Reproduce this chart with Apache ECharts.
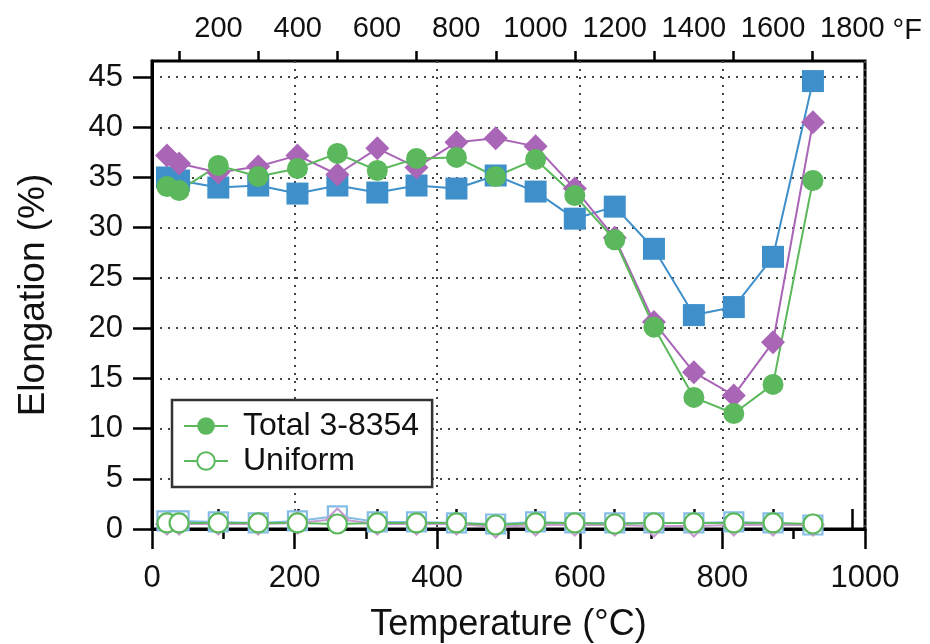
<!DOCTYPE html>
<html><head><meta charset="utf-8">
<script src="https://cdn.jsdelivr.net/npm/echarts@6/dist/echarts.min.js"></script>
<style>html,body{margin:0;padding:0;background:#fff}#c{width:930px;height:644px}</style>
</head><body><div id="c"></div>
<script>
// Test temperatures (°C), equivalent to 70, 100, 200 ... 1700 °F
const temperaturesC = [21, 38, 93, 149, 204, 260, 316, 371, 427, 482, 538, 593, 649, 704, 760, 816, 871, 927];
// Total elongation (%)
const totalGreen  = [34.1, 33.7, 36.2, 35.1, 35.9, 37.4, 35.7, 36.9, 37.0, 35.1, 36.8, 33.2, 28.8, 20.1, 13.1, 11.5, 14.4, 34.7];
const totalPurple = [37.2, 36.4, 35.5, 36.1, 37.2, 35.3, 37.9, 36.0, 38.5, 38.9, 38.1, 33.9, 29.0, 20.6, 15.6, 13.3, 18.6, 40.5];
const totalBlue   = [35.0, 34.7, 34.0, 34.2, 33.4, 34.2, 33.5, 34.2, 33.9, 35.2, 33.6, 30.9, 32.1, 27.9, 21.3, 22.1, 27.1, 44.6];
// Uniform elongation (%)
const uniformGreen  = [0.6, 0.6, 0.6, 0.6, 0.6, 0.5, 0.6, 0.6, 0.6, 0.4, 0.6, 0.6, 0.5, 0.6, 0.6, 0.6, 0.6, 0.5];
const uniformPurple = [0.5, 0.5, 0.5, 0.5, 0.6, 1.0, 0.5, 0.5, 0.5, 0.2, 0.4, 0.4, 0.4, 0.3, 0.3, 0.4, 0.4, 0.4];
const uniformBlue   = [0.8, 0.8, 0.7, 0.6, 0.8, 1.3, 0.7, 0.7, 0.6, 0.5, 0.7, 0.6, 0.6, 0.6, 0.6, 0.7, 0.6, 0.4];
// Tick labels
const yTicks = [0, 5, 10, 15, 20, 25, 30, 35, 40, 45];
const fMajorTicks = [200, 400, 600, 800, 1000, 1200, 1400, 1600, 1800];
const fMinorTicks = [100, 300, 500, 700, 900, 1100, 1300, 1500, 1700];
const fUnit = '°F';

const FONT = 'Liberation Sans';
const GREEN = '#5cb85c', PURPLE = '#a965b6', BLUE = '#3f90ca';
const pairs = ys => temperaturesC.map((x, i) => [x, ys[i]]);
const plain = v => String(v);

function totalSeries(name, ys, color, symbol, size) {
  return {
    name, type: 'line', data: pairs(ys), xAxisIndex: 0, yAxisIndex: 0,
    symbol, symbolSize: size, showAllSymbol: true,
    lineStyle: { color, width: 2 }, itemStyle: { color, borderWidth: 0 },
    emphasis: { disabled: true }, z: 3
  };
}
function uniformSeries(name, ys, color, symbol, size) {
  return {
    name, type: 'line', data: pairs(ys), xAxisIndex: 0, yAxisIndex: 0,
    symbol, symbolSize: size, showAllSymbol: true,
    lineStyle: { color, width: 2 }, itemStyle: { color: '#fff', borderColor: color, borderWidth: 2.2 },
    emphasis: { disabled: true }, z: 3
  };
}

const chart = echarts.init(document.getElementById('c'), null, { renderer: 'canvas' });
chart.setOption({
  animation: false,
  backgroundColor: '#fff',
  textStyle: { fontFamily: FONT },
  grid: {
    left: 152, right: 65, top: 61, bottom: 115, containLabel: false, outerBoundsMode: 'none',
    show: true, borderColor: '#000', borderWidth: 3, backgroundColor: 'transparent'
  },
  legend: {
    data: ['Total 3-8354', 'Uniform'],
    orient: 'vertical', left: 172, top: 400,
    padding: [10, 13, 10, 11], itemGap: 3, itemWidth: 44, itemHeight: 22,
    backgroundColor: '#fff', borderColor: '#333', borderWidth: 2.5, borderRadius: 0,
    textStyle: { fontFamily: FONT, fontSize: 32, color: '#111', padding: [0, 0, 0, 10] },
    selectedMode: false
  },
  xAxis: [
    {
      type: 'value', position: 'bottom', min: 0, max: 1000, interval: 200,
      name: 'Temperature (°C)', nameLocation: 'middle', nameGap: 78,
      nameTextStyle: { fontFamily: FONT, fontSize: 36, color: '#111' },
      axisLine: { show: true, onZero: false, lineStyle: { color: '#000', width: 3 } },
      axisTick: { show: true, inside: false, length: 20, lineStyle: { color: '#000', width: 2.5 } },
      minorTick: { show: true, splitNumber: 2, length: 10, lineStyle: { color: '#000', width: 2.5 } },
      axisLabel: { fontFamily: FONT, fontSize: 31, color: '#111', margin: 34, formatter: plain, hideOverlap: false },
      splitLine: { show: true, lineStyle: { color: '#444', width: 2, type: [2, 6] } }
    },
    {
      type: 'value', position: 'top', min: 32, max: 1832,
      axisLine: { show: true, lineStyle: { color: '#000', width: 3 } },
      axisTick: { show: true, inside: false, length: 20, customValues: fMajorTicks, lineStyle: { color: '#000', width: 2.5 } },
      axisLabel: {
        show: true, customValues: fMajorTicks, fontFamily: FONT, fontSize: 29, color: '#111', margin: 18,
        hideOverlap: false, showMinLabel: true, showMaxLabel: true, formatter: plain
      },
      splitLine: { show: false }
    },
    {
      type: 'value', position: 'top', min: 32, max: 1832,
      axisLine: { show: false },
      axisTick: { show: true, inside: false, length: 10, customValues: fMinorTicks, lineStyle: { color: '#000', width: 2.5 } },
      axisLabel: { show: false },
      splitLine: { show: false }
    }
  ],
  yAxis: {
    type: 'value', min: 0, max: 46.6, interval: 5,
    name: 'Elongation (%)', nameLocation: 'middle', nameGap: 100,
    nameTextStyle: { fontFamily: FONT, fontSize: 37, color: '#111' },
    axisLine: { show: true, onZero: false, lineStyle: { color: '#000', width: 3 } },
    axisTick: { show: true, inside: false, length: 19, customValues: yTicks, lineStyle: { color: '#000', width: 2.5 } },
    axisLabel: { customValues: yTicks, fontFamily: FONT, fontSize: 31, color: '#111', margin: 29, formatter: plain },
    splitLine: { show: true, lineStyle: { color: '#444', width: 2, type: [2, 6] } }
  },
  series: [
    uniformSeries('Uniform (blue)', uniformBlue, '#86bde6', 'rect', 19),
    uniformSeries('Uniform (purple)', uniformPurple, '#c79bd0', 'diamond', 21),
    uniformSeries('Uniform', uniformGreen, GREEN, 'circle', 19),
    totalSeries('Total (blue)', totalBlue, BLUE, 'rect', 22),
    totalSeries('Total (purple)', totalPurple, PURPLE, 'diamond', 24),
    totalSeries('Total 3-8354', totalGreen, GREEN, 'circle', 21)
  ]
});

// Unit "°F" placed right after the last top-axis label, positioned through the °F axis scale
const lastF = fMajorTicks[fMajorTicks.length - 1];
const lastFx = chart.convertToPixel({ xAxisIndex: 1 }, lastF);
const labelHalfWidth = echarts.format.getTextRect ? echarts.format.getTextRect(String(lastF), '29px ' + FONT).width / 2 : 31;
chart.setOption({
  graphic: [{
    type: 'text', x: lastFx + labelHalfWidth + 8, y: 16, silent: true,
    style: { text: fUnit, font: '29px "' + FONT + '"', fill: '#111', verticalAlign: 'top', align: 'left' }
  }]
});
</script></body></html>
